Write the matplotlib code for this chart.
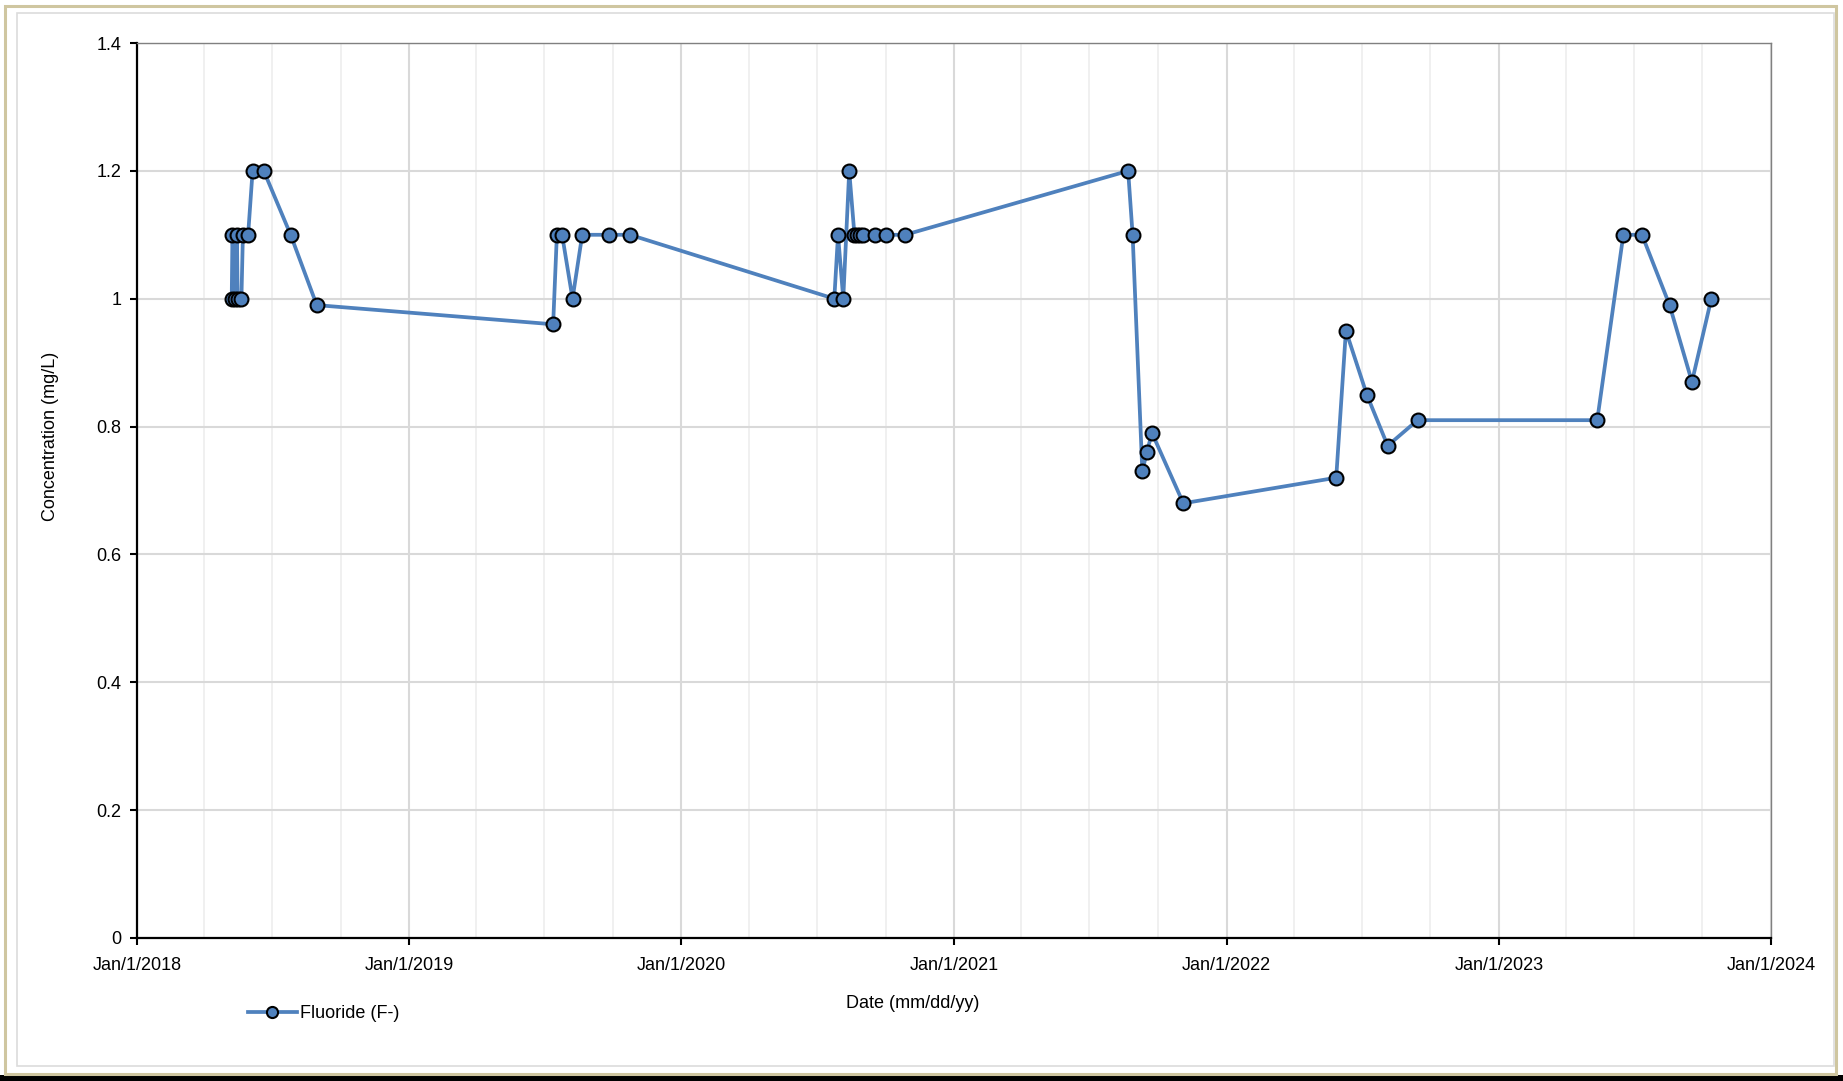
import datetime as dt

import matplotlib
matplotlib.use("Agg")
import matplotlib.dates as mdates
import matplotlib.pyplot as plt
from matplotlib.patches import Rectangle
from matplotlib.ticker import FuncFormatter, MultipleLocator

plt.rcParams['font.family'] = ['Liberation Sans', 'DejaVu Sans']
fz = 13

# sample dates and fluoride results
dates = [
    "2018-05-08", "2018-05-09", "2018-05-12", "2018-05-15", "2018-05-16",
    "2018-05-21", "2018-05-23", "2018-05-30", "2018-06-05", "2018-06-20",
    "2018-07-26", "2018-08-30",
    "2019-07-13", "2019-07-18", "2019-07-25", "2019-08-08", "2019-08-21",
    "2019-09-26", "2019-10-24",
    "2020-07-24", "2020-07-29", "2020-08-05", "2020-08-13", "2020-08-20",
    "2020-08-24", "2020-08-28", "2020-09-01", "2020-09-17", "2020-10-01",
    "2020-10-27",
    "2021-08-22", "2021-08-28", "2021-09-10", "2021-09-16", "2021-09-23",
    "2021-11-04",
    "2022-05-28", "2022-06-10", "2022-07-08", "2022-08-05", "2022-09-14",
    "2023-05-13", "2023-06-17", "2023-07-12", "2023-08-18", "2023-09-17",
    "2023-10-13",
]
fluoride = [
    1.0, 1.1, 1.0, 1.1, 1.0,
    1.0, 1.1, 1.1, 1.2, 1.2,
    1.1, 0.99,
    0.96, 1.1, 1.1, 1.0, 1.1,
    1.1, 1.1,
    1.0, 1.1, 1.0, 1.2, 1.1,
    1.1, 1.1, 1.1, 1.1, 1.1,
    1.1,
    1.2, 1.1, 0.73, 0.76, 0.79,
    0.68,
    0.72, 0.95, 0.85, 0.77, 0.81,
    0.81, 1.1, 1.1, 0.99, 0.87,
    1.0,
]
series_name = "Fluoride (F-)"

x = [dt.datetime.strptime(d, "%Y-%m-%d") for d in dates]

fig = plt.figure(figsize=(18.43, 10.81), dpi=100)
W, H = 1843, 1081

# outer frame
fig.patches.append(Rectangle((0, 0), 1, 6 / H, transform=fig.transFigure,
                             facecolor='black', edgecolor='none', zorder=0))
fig.patches.append(Rectangle((5 / W, 7 / H), 1 - 12 / W, 1 - 13 / H,
                             transform=fig.transFigure, facecolor='none',
                             edgecolor='#cfc6a0', linewidth=2.2, zorder=1))
fig.patches.append(Rectangle((17 / W, 15 / H), 1 - 26 / W, 1 - 28 / H,
                             transform=fig.transFigure, facecolor='none',
                             edgecolor='#dcdcdc', linewidth=1.2, zorder=1))

ax = fig.add_axes([137 / W, 1 - 938 / H, (1771 - 137) / W, (938 - 43) / H])

ax.plot(x, fluoride, '-o', color='#4f81bd', linewidth=2.7, markersize=10,
        markerfacecolor='#4f81bd', markeredgecolor='black',
        markeredgewidth=1.5, label=series_name, zorder=3)

ax.set_xlim(dt.datetime(2018, 1, 1), dt.datetime(2024, 1, 1))
ax.set_ylim(0, 1.4)

ax.xaxis.set_major_locator(mdates.YearLocator())
ax.xaxis.set_minor_locator(mdates.MonthLocator(bymonth=[4, 7, 10]))
ax.xaxis.set_major_formatter(FuncFormatter(
    lambda v, p: "{0:%b}/{0.day}/{0.year}".format(mdates.num2date(v))))
ax.yaxis.set_major_locator(MultipleLocator(0.2))
ax.yaxis.set_major_formatter(FuncFormatter(lambda v, p: "%g" % round(v, 1)))

ax.grid(which='major', axis='x', color='#d9d9d9', linewidth=1.5)
ax.grid(which='minor', axis='x', color='#efefef', linewidth=1.3)
ax.grid(which='major', axis='y', color='#d9d9d9', linewidth=1.5)
ax.set_axisbelow(True)

ax.tick_params(which='major', direction='out', length=5, width=1.5,
               labelsize=fz, pad=6)
ax.tick_params(which='minor', length=0)
ax.tick_params(axis='x', pad=9)

ax.spines['left'].set_linewidth(1.6)
ax.spines['bottom'].set_linewidth(1.6)
ax.spines['top'].set_color('#808080')
ax.spines['right'].set_color('#808080')
ax.spines['top'].set_linewidth(1.0)
ax.spines['right'].set_linewidth(1.0)

ax.set_xlabel("Date (mm/dd/yy)", fontsize=fz)
ax.set_ylabel("Concentration (mg/L)", fontsize=fz)
ax.xaxis.set_label_coords(0.475, -0.064)
ax.yaxis.set_label_coords(-0.048, 0.56)

fig.legend(loc='center left', bbox_to_anchor=(248 / W, 1 - 1014 / H),
           frameon=False, fontsize=fz, handlelength=2.7, handletextpad=0.2,
           borderpad=0, borderaxespad=0, markerscale=0.8)

fig.savefig("out.png", dpi=100)
plt.close(fig)
